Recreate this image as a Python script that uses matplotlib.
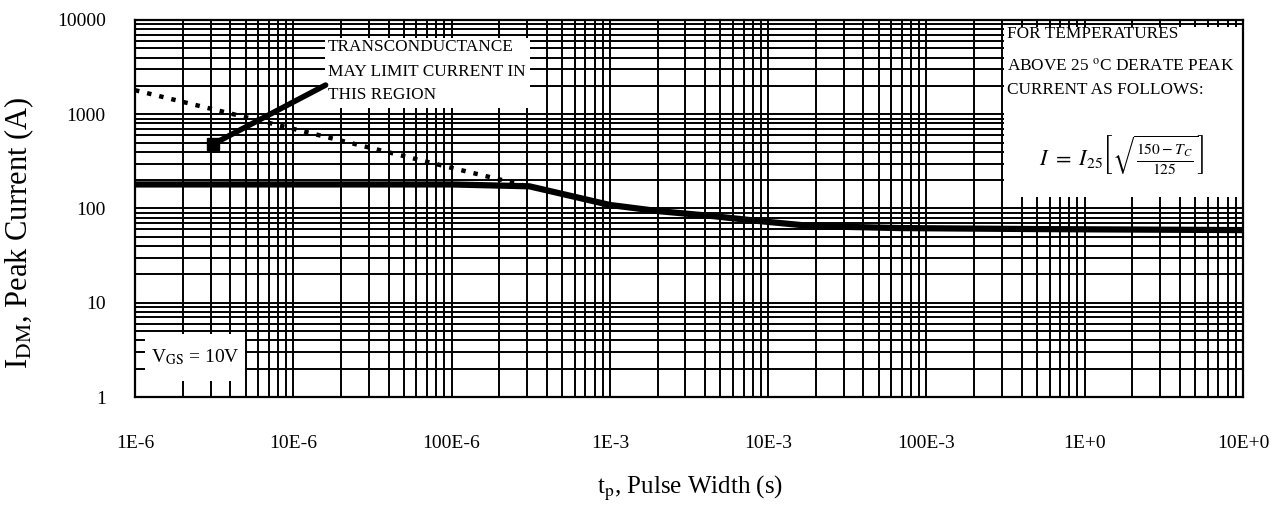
import matplotlib
matplotlib.use("Agg")
import matplotlib.pyplot as plt
from matplotlib.patches import Rectangle

plt.rcParams['font.family'] = ['Liberation Serif', 'DejaVu Serif']
plt.rcParams['mathtext.fontset'] = 'stix'

# Data
solid_x = [1e-6, 1e-5, 1e-4, 3.1e-4, 1e-3, 2e-3, 4.5e-3, 8.5e-3, 1.9e-2, 6.8e-2, 0.5, 10]
solid_y = [180, 180, 180, 172, 109, 94, 83, 74, 65, 62, 60.5, 59]
dotted_x = [1e-6, 1e-5, 1e-4, 2.8e-4]
dotted_y = [1800, 700, 270, 178]
x_ticks = [1e-6, 1e-5, 1e-4, 1e-3, 1e-2, 1e-1, 1, 10]
x_labels = ["1E-6", "10E-6", "100E-6", "1E-3", "10E-3", "100E-3", "1E+0", "10E+0"]
y_ticks = [1, 10, 100, 1000, 10000]
y_labels = ["1", "10", "100", "1000", "10000"]

W, H = 1278, 511
fig = plt.figure(figsize=(W/100, H/100), dpi=100)
L, R, T, B = 135, 1243, 20, 397
ax = fig.add_axes([L/W, 1-B/H, (R-L)/W, (B-T)/H])
ax.set_xscale('log')
ax.set_yscale('log')
ax.set_xlim(1e-6, 10)
ax.set_ylim(1, 10000)
ax.set_axisbelow(True)
ax.grid(True, which='both', color='black', linewidth=1.4)

ax.set_xticks(x_ticks)
ax.set_xticklabels(x_labels)
ax.set_yticks(y_ticks)
ax.set_yticklabels(y_labels)
ax.tick_params(which='both', length=0)
ax.tick_params(axis='x', pad=27, labelsize=14)
ax.tick_params(axis='y', pad=21, labelsize=14)
for s in ax.spines.values():
    s.set_linewidth(1.6)

def ax_box(px0, py0, px1, py1):
    x0 = (px0 - L) / (R - L)
    x1 = (px1 - L) / (R - L)
    y1 = 1 - (py0 - T) / (B - T)
    y0 = 1 - (py1 - T) / (B - T)
    ax.add_patch(Rectangle((x0, y0), x1 - x0, y1 - y0, transform=ax.transAxes,
                           facecolor='white', edgecolor='none', zorder=1))

def ax_pt(px, py):
    return ((px - L) / (R - L), 1 - (py - T) / (B - T))

ax_box(325, 38, 530, 108)
ax_box(1004, 27, 1243, 197)
ax_box(145, 334, 245, 381)

ax.plot(solid_x, solid_y, color='black', linewidth=4.5, zorder=3, solid_capstyle='butt')
ax.plot(dotted_x, dotted_y, color='black', linewidth=3.2, linestyle=(0, (1, 1.8)), zorder=3)

for txt, py in [("TRANSCONDUCTANCE", 47), ("MAY LIMIT CURRENT IN", 72), ("THIS REGION", 95)]:
    ax.text(*ax_pt(328, py), txt, transform=ax.transAxes, ha='left', va='center',
            fontsize=12.4, zorder=4)
ax.annotate("", xy=(3.1e-6, 480), xytext=(1.6e-5, 2040),
            arrowprops=dict(arrowstyle='-', color='black', lw=4, shrinkA=0, shrinkB=0), zorder=4)
ax.plot([3.1e-6], [480], marker='s', markersize=9, color='black', zorder=4)

for txt, py in [("FOR TEMPERATURES", 34), ("ABOVE 25 $^{\\mathrm{o}}$C DERATE PEAK", 66),
                ("CURRENT AS FOLLOWS:", 90)]:
    ax.text(*ax_pt(1007, py), txt, transform=ax.transAxes, ha='left', va='center',
            fontsize=12.4, zorder=4)
ax.text(*ax_pt(1122, 155), r"$I\ =\ I_{25}\left[\sqrt{\frac{150-T_C}{125}}\right]$",
        transform=ax.transAxes, ha='center', va='center', fontsize=16, zorder=4)

ax.text(*ax_pt(151, 357), r"V$_\mathrm{GS}$ = 10V", transform=ax.transAxes,
        ha='left', va='center', fontsize=14, zorder=4)

fig.text(690/W, 1-488/H, r"t$_\mathrm{p}$, Pulse Width (s)", fontsize=18,
         ha='center', va='center')
fig.text(19/W, 1-233/H, r"I$_\mathrm{DM}$, Peak Current (A)", fontsize=22,
         ha='center', va='center', rotation=90)

fig.savefig("out.png", dpi=100)
